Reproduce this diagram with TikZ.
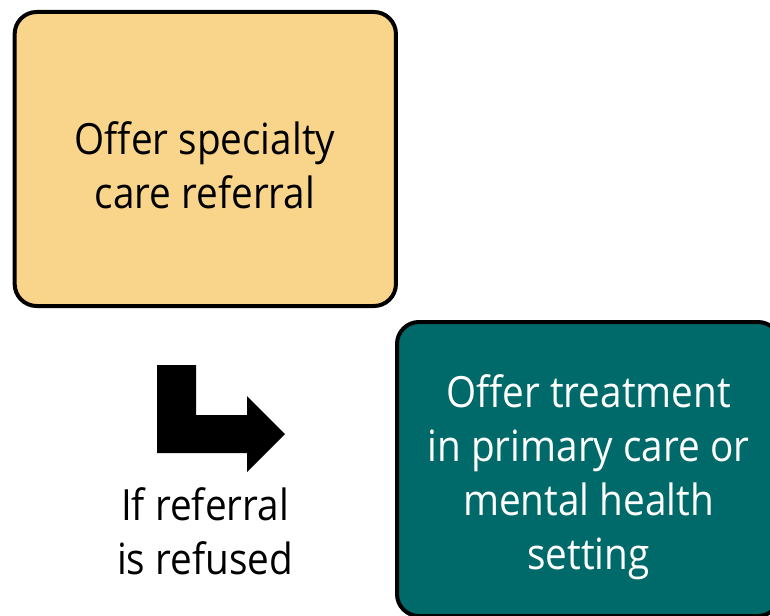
\documentclass[tikz,border=0pt]{standalone}
\usepackage{fontspec}
\setmainfont[FakeStretch=0.9]{Open Sans}
\definecolor{boxorange}{RGB}{248,213,138}
\definecolor{boxteal}{RGB}{0,106,106}
\begin{document}
\begin{tikzpicture}[x=1pt,y=-1pt,
  box/.style={draw=black, line width=4pt, rounded corners=22pt, inner sep=0pt},
  txt/.style={align=center, font=\fontsize{43}{54}\selectfont, inner sep=0pt}]
\useasboundingbox (0,0) rectangle (770,615);
\begin{scope}
\clip (0,0) rectangle (770,615);
\node[box, fill=boxorange, minimum width=381.3pt, minimum height=294pt] (ref) at (205.3,159) {};
\node[box, fill=boxteal, minimum width=383pt, minimum height=294pt] (treat) at (588.5,469) {};
\end{scope}
\node[txt] (reftxt) at (205,165) {Offer specialty\\care referral};
\node[txt, text=white] (treattxt) at (588.5,477) {Offer treatment\\in primary care or\\mental health\\setting};
\node[txt] (cond) at (205,531) {If referral\\is refused};
\coordinate (a1) at (157,365);
\coordinate (a2) at (285,434);
\fill[black] (a1) -- (196,365) -- (196,415) -- (247,415) -- (247,396) -- (a2) -- (247,472) -- (247,453) -- (157,453) -- cycle;
\end{tikzpicture}
\end{document}
